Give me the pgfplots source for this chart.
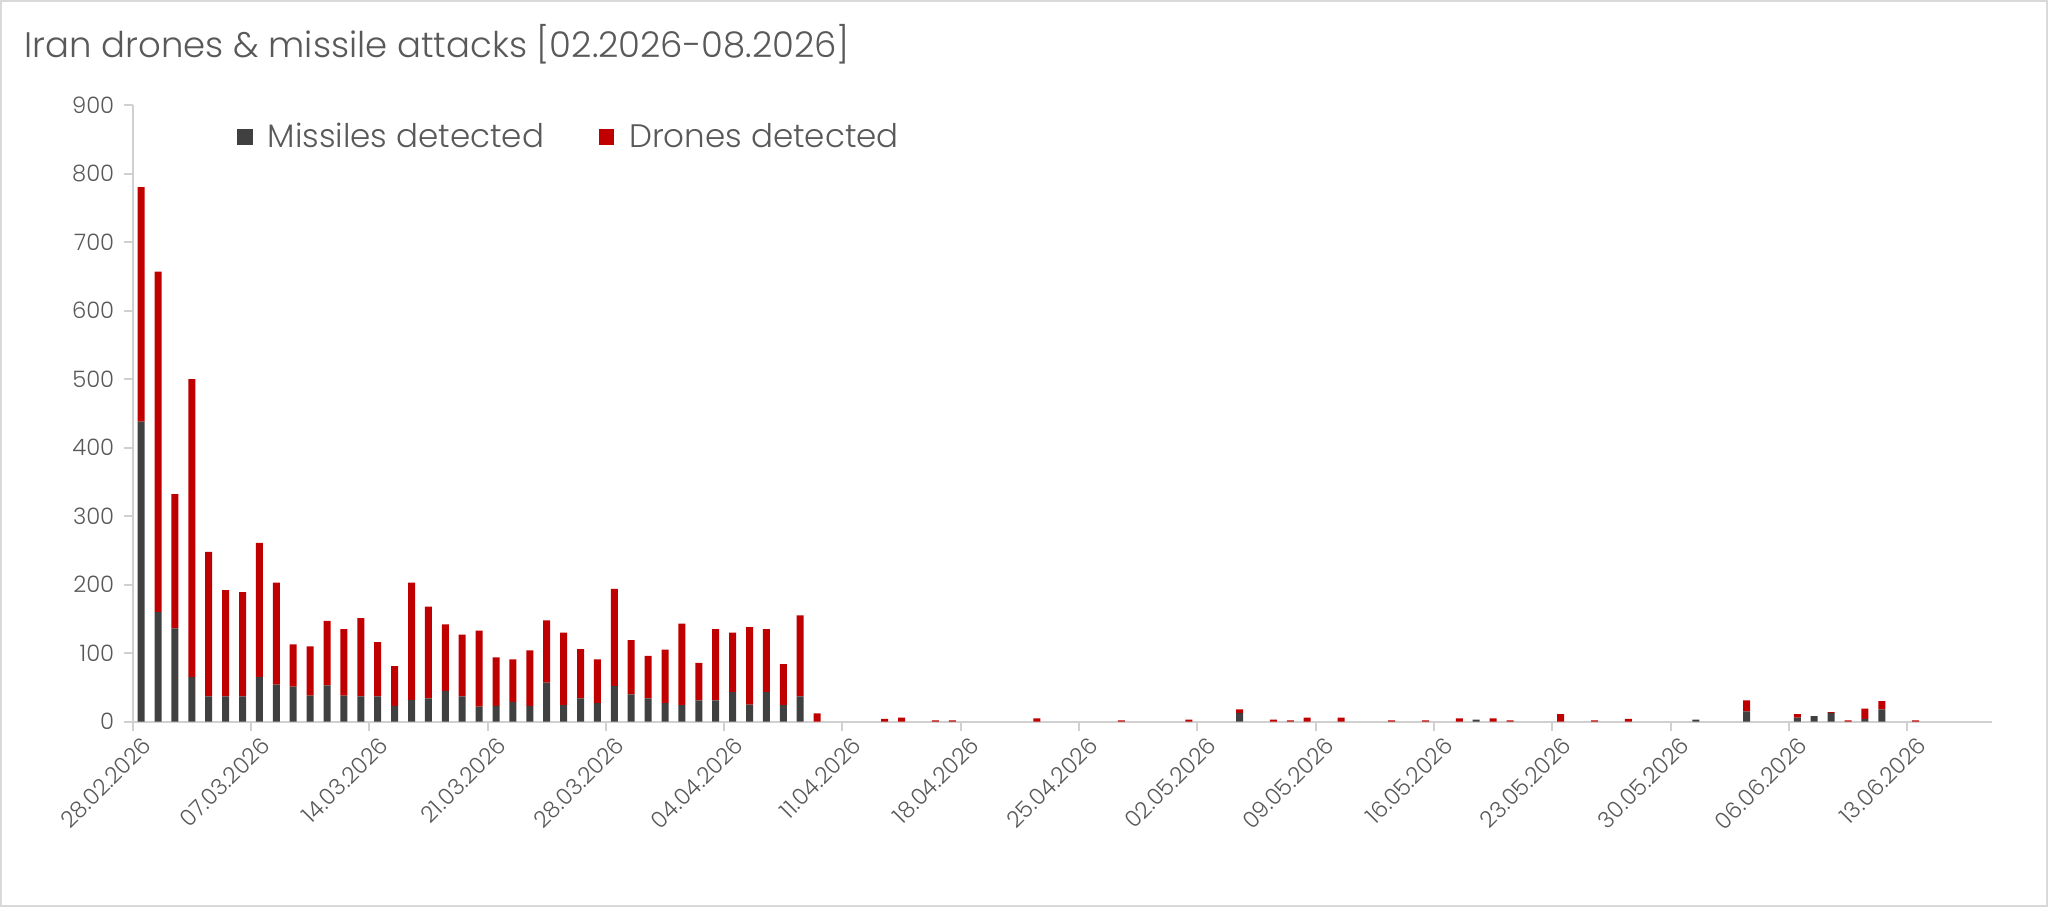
\documentclass[border=0pt]{standalone}
\usepackage{pgfplots}
\pgfplotsset{compat=1.18}
\usepackage{pgfplotstable}
\usepackage{fontspec}
\setmainfont{Poppins}[UprightFont=* Light]
\definecolor{missile}{HTML}{404040}
\definecolor{drone}{HTML}{C00000}
\definecolor{txt}{HTML}{595959}
\definecolor{axisgray}{HTML}{D0D0D0}
\definecolor{bordergray}{HTML}{D9D9D9}

\pgfplotstableread{
idx m d
0 438 342
1 160 497
2 136 196
3 65 435
4 37 211
5 37 155
6 37 152
7 65 196
8 54 149
9 51 62
10 38 72
11 53 94
12 38 97
13 37 114
14 37 79
15 23 58
16 32 171
17 34 134
18 45 97
19 37 90
20 22 111
21 23 71
22 29 62
23 23 81
24 57 91
25 24 106
26 34 72
27 27 64
28 52 142
29 40 79
30 34 62
31 27 78
32 24 119
33 31 55
34 31 104
35 43 87
36 25 113
37 43 92
38 24 60
39 37 118
40 0 12
41 0 0
42 0 0
43 0 0
44 0 4
45 0 6
46 0 0
47 0 2
48 0 2
49 0 0
50 0 0
51 0 0
52 0 0
53 0 5
54 0 0
55 0 0
56 0 0
57 0 0
58 0 2
59 0 0
60 0 0
61 0 0
62 0 3
63 0 0
64 0 0
65 13 5
66 0 0
67 0 3
68 0 2
69 0 6
70 0 0
71 0 6
72 0 0
73 0 0
74 0 2
75 0 0
76 0 2
77 0 0
78 0 5
79 3 0
80 0 5
81 0 2
82 0 0
83 0 0
84 0 11
85 0 0
86 0 2
87 0 0
88 0 4
89 0 0
90 0 0
91 0 0
92 3 0
93 0 0
94 0 0
95 15 16
96 0 0
97 0 0
98 6 5
99 8 0
100 13 1
101 0 2
102 4 15
103 18 12
104 0 0
105 0 2
106 0 0
107 0 0
108 0 0
109 0 0
}\datatable

\begin{document}
\begin{tikzpicture}
\useasboundingbox (0,0) rectangle (768pt,340.125pt);
\draw[bordergray, line width=0.75pt] (0.4pt,0.4pt) rectangle (767.6pt,339.7pt);
\node[anchor=base west, font=\fontsize{13.3}{16}\selectfont, text=txt, inner sep=0pt] at (9pt,318.5pt) {Iran drones \& missile attacks [02.2026-08.2026]};
\begin{axis}[
  at={(49.76pt,69.49pt)}, anchor=south west,
  scale only axis, width=697.1pt, height=231.26pt,
  ybar stacked, bar width=2.625pt,
  xmin=-0.5, xmax=109.5, ymin=0, ymax=900,
  enlargelimits=false,
  axis x line*=bottom, axis y line*=left,
  axis line style={draw=axisgray, line width=0.75pt},
  ytick={0,100,...,900},
  xtick={0,7,...,105},
  xticklabels={28.02.2026,07.03.2026,14.03.2026,21.03.2026,28.03.2026,04.04.2026,11.04.2026,18.04.2026,25.04.2026,02.05.2026,09.05.2026,16.05.2026,23.05.2026,30.05.2026,06.06.2026,13.06.2026},
  x tick style={draw=none},
  y tick style={draw=axisgray, line width=0.75pt},
  tick align=outside, major tick length=3.4pt,
  extra x ticks={-0.5,6.5,13.5,20.5,27.5,34.5,41.5,48.5,55.5,62.5,69.5,76.5,83.5,90.5,97.5,104.5},
  extra x tick labels={},
  extra x tick style={x tick style={draw=axisgray, line width=0.75pt}, major tick length=3.4pt},
  /pgf/number format/assume math mode=true,
  yticklabel style={font=\fontsize{8.5}{10}\selectfont, text=txt},
  xticklabel style={font=\fontsize{8.5}{10}\selectfont, text=txt, rotate=45, anchor=north east, inner sep=1pt},
  legend style={at={(0.056,0.948)}, anchor=west, draw=none, fill=none, legend columns=2,
     font=\fontsize{12.2}{15}\selectfont, text=txt, inner sep=0pt,
     nodes={inner sep=0pt},
     /tikz/every odd column/.append style={column sep=5.6pt},
     /tikz/every even column/.append style={column sep=20.5pt}},
  legend cell align=left,
]
\addplot[fill=missile, draw=none,
  legend image code/.code={\fill[missile] (0pt,-2.9pt) rectangle (5.8pt,2.9pt);}]
  table[x=idx, y=m] {\datatable};
\addlegendentry{Missiles detected}
\addplot[fill=drone, draw=none,
  legend image code/.code={\fill[drone] (0pt,-2.9pt) rectangle (5.8pt,2.9pt);}]
  table[x=idx, y=d] {\datatable};
\addlegendentry{Drones detected}
\end{axis}
\end{tikzpicture}
\end{document}
